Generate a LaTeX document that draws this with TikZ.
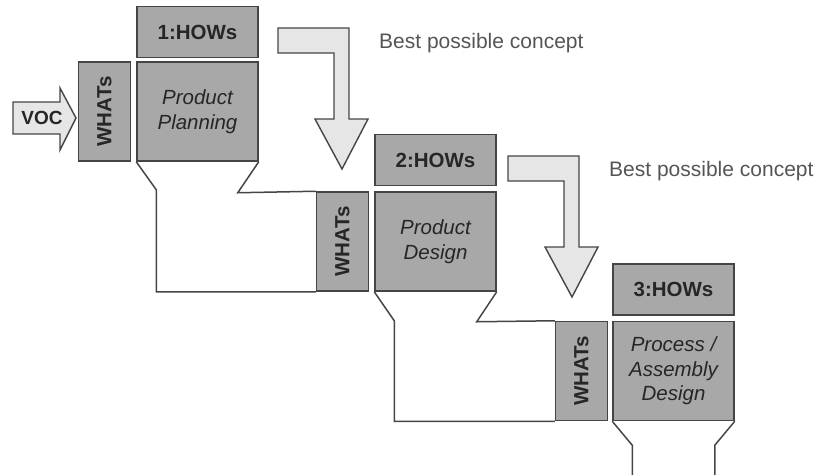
\documentclass[tikz,border=0pt]{standalone}
\usepackage{fontspec}
\setmainfont{Liberation Sans}
\usepackage{graphicx}
\usetikzlibrary{positioning}

\definecolor{boxgray}{HTML}{A8A8A8}
\definecolor{arrowgray}{HTML}{E6E6E6}
\definecolor{linegray}{HTML}{454545}
\definecolor{notegray}{HTML}{555555}

\begin{document}
\begin{tikzpicture}[
    x=1pt, y=-1pt,
    every node/.style={font=\fontsize{20}{24}\selectfont, text=black!85},
    howbox/.style={
        draw=linegray, line width=1.5pt, fill=boxgray,
        minimum width=121pt, minimum height=51pt,
        font=\fontsize{20.5}{24}\selectfont\bfseries
    },
    whatbox/.style={
        draw=linegray, line width=1.5pt, fill=boxgray,
        minimum width=52pt, minimum height=99pt,
        font=\fontsize{20.5}{24}\selectfont\bfseries
    },
    phasebox/.style={
        draw=linegray, line width=1.5pt, fill=boxgray,
        minimum width=121pt, minimum height=99pt,
        align=center, font=\fontsize{20.5}{24.5}\selectfont\itshape
    },
    bigarrow/.style={draw=linegray, line width=1.4pt, fill=arrowgray, line join=miter},
    funnel/.style={draw=linegray, line width=1.5pt},
    note/.style={font=\fontsize{21}{25}\selectfont, text=notegray, anchor=west, inner sep=0pt}
]
\useasboundingbox (0,0) rectangle (818,474);

% ----------------------------------------------------------
% Phase 1: Produktplanung
% ----------------------------------------------------------
\node[phasebox] (pp) at (197.5, 111.5) {Product\\Planning};
\node[howbox, above=3pt of pp] (how1) {1:HOWs};
\node[whatbox, left=5pt of pp] (what1) {\rotatebox{90}{WHATs}};

% VOC-Pfeil links
\draw[bigarrow] (13,102) -- (60,102) -- (60,88) -- (76,118)
    -- (60,150) -- (60,134) -- (13,134) -- cycle;
\node[font=\fontsize{19}{22}\selectfont\bfseries] (voc) at (42,118) {VOC};

% ----------------------------------------------------------
% Phase 2: Produktdesign
% ----------------------------------------------------------
\node[phasebox] (pd) at (435.5, 241.5) {Product\\Design};
\node[howbox, above=5pt of pd] (how2) {2:HOWs};
\node[whatbox, left=5pt of pd] (what2) {\rotatebox{90}{WHATs}};

% ----------------------------------------------------------
% Phase 3: Prozess-/Montagedesign
% ----------------------------------------------------------
\node[phasebox] (pad) at (673.5, 371) {Process /\\Assembly\\Design};
\node[howbox, above=5pt of pad] (how3) {3:HOWs};
\node[whatbox, left=4pt of pad] (what3) {\rotatebox{90}{WHATs}};

% ----------------------------------------------------------
% Trichter: HOWs werden zu den WHATs der naechsten Phase
% ----------------------------------------------------------
\draw[funnel] (pp.south west) -- ++(20,28) |- (what2.south west);
\draw[funnel] (pp.south east) -- ++(-21,31) -- (what2.north west);

\draw[funnel] (pd.south west) -- ++(20,29) |- (what3.south west);
\draw[funnel] (pd.south east) -- ++(-20,30) -- (what3.north west);

\draw[funnel] (pad.south west) -- ++(20,24) -- ++(0,30);
\draw[funnel] (pad.south east) -- ++(-20,24) -- ++(0,30);

% ----------------------------------------------------------
% Abgeknickte Pfeile mit Hinweis
% ----------------------------------------------------------
\foreach \dx/\dy [count=\k] in {0/0, 230/128} {
    \draw[bigarrow, shift={(\dx,\dy)}] (278,28) -- (349,28) -- (349,119)
        -- (368,119) -- (342,169) -- (315,119) -- (334,119)
        -- (334,53) -- (278,53) -- cycle;
    \node[note] (best\k) at ({379+\dx}, {43+\dy}) {Best possible concept};
}

\end{tikzpicture}
\end{document}
